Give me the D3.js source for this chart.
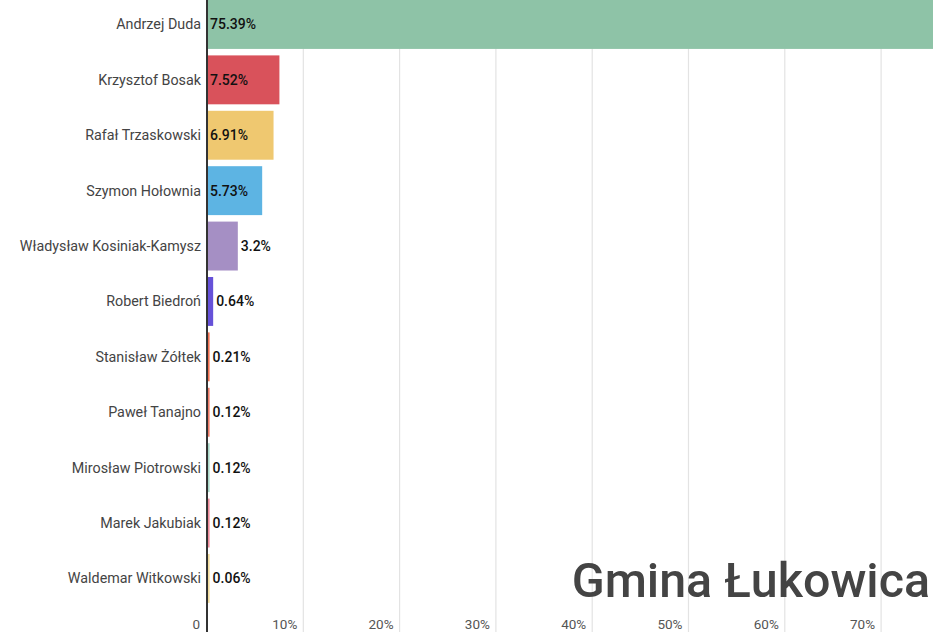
<!DOCTYPE html>
<html><head><meta charset="utf-8">
<script src="https://cdn.jsdelivr.net/npm/d3@7"></script>
<style>body{margin:0;background:#fff;}svg{display:block;font-family:Roboto,sans-serif;}</style>
</head><body><svg id="c" width="950" height="632"></svg>
<script>
const candidates = ["Andrzej Duda","Krzysztof Bosak","Rafał Trzaskowski","Szymon Hołownia","Władysław Kosiniak-Kamysz","Robert Biedroń","Stanisław Żółtek","Paweł Tanajno","Mirosław Piotrowski","Marek Jakubiak","Waldemar Witkowski"];
const values = [75.39,7.52,6.91,5.73,3.2,0.64,0.21,0.12,0.12,0.12,0.06];
const colors = ["#8ec3a7","#d9525b","#efc870","#5db4e3","#a58fc4","#6651d8","#f07050","#ee7a66","#a8d8c8","#ef8a9a","#f2dc9c"];
const xTicks = [0,10,20,30,40,50,60,70];
const title = "Gmina Łukowica";

const svg = d3.select("#c");
const x0 = 207;
const x = d3.scaleLinear().domain([0,10]).range([x0, x0+96.3]);
const y = d3.scaleBand().domain(candidates).range([0, 602.9]).paddingInner(0.117).paddingOuter(0);

// grid
svg.append("g").selectAll("line").data(xTicks.slice(1)).join("line")
  .attr("x1", d=>x(d)).attr("x2", d=>x(d)).attr("y1",0).attr("y2",632)
  .attr("stroke","#e3e3e3").attr("stroke-width",1.2);

// tick labels
svg.append("g").selectAll("text").data(xTicks).join("text")
  .attr("x", d=> d===0 ? x(d)-7 : x(d)-6).attr("y", 629)
  .attr("text-anchor","end").attr("font-size",13.5).attr("fill","#555")
  .text(d=> d===0 ? "0" : d+"%");

// bars
svg.append("g").selectAll("rect").data(candidates).join("rect")
  .attr("x", x0+1).attr("y", d=>y(d))
  .attr("width", (d,i)=>Math.max(1.6, x(values[i])-x0-1))
  .attr("height", y.bandwidth())
  .attr("fill", (d,i)=>colors[i]);

// axis line
svg.append("line").attr("x1",x0).attr("x2",x0).attr("y1",0).attr("y2",632)
  .attr("stroke","#333").attr("stroke-width",2);

// category labels
svg.append("g").selectAll("text").data(candidates).join("text")
  .attr("x", x0-6).attr("y", d=>y(d)+y.bandwidth()/2).attr("dy","0.35em")
  .attr("text-anchor","end").attr("font-size",14.3).attr("fill","#444").text(d=>d);

// value labels
const vl = svg.append("g").selectAll("text").data(values).join("text")
  .attr("y", (d,i)=>y(candidates[i])+y.bandwidth()/2).attr("dy","0.35em")
  .attr("font-size",14).attr("font-weight",500).attr("fill","#111")
  .text(d=>d+"%");
vl.each(function(d){
  const w = this.getComputedTextLength();
  const bw = x(d)-x0;
  d3.select(this).attr("x", bw > w+6 ? x0+3 : Math.max(x(d), x0+2.6)+3);
});

// title
svg.append("text").attr("x",930).attr("y",597).attr("text-anchor","end")
  .attr("font-size",48.4).attr("font-weight",500).attr("fill","#444").text(title);
</script></body></html>
